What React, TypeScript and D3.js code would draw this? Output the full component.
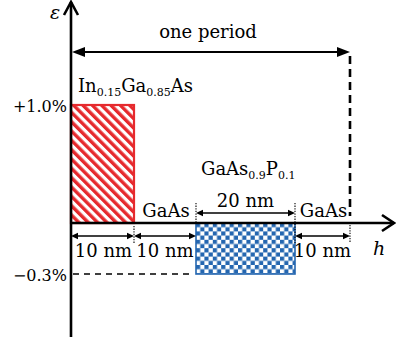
import React from "react";
import * as d3 from "d3";

// ---- data ----
const layerNames = ["InGaAs", "GaAs", "GaAsP", "GaAs"];
const layerThickness = [10, 10, 20, 10]; // nm
const layerStrain = [1.0, 0, -0.3, 0]; // %
const strainTicks = [1.0, -0.3];
const strainTickLabels = ["+1.0%", "\u22120.3%"];
const periodLabel = "one period";

const W = 396;
const H = 346;
const FONT = "'DejaVu Serif', serif";
const RED = "#e62a2e";
const BLUE = "#2466b0";

export default function App() {
  // cumulative boundaries in nm
  const bounds = [0];
  layerThickness.forEach((t, i) => bounds.push(bounds[i] + t));
  // schematic (piecewise) scales
  const x = d3.scaleLinear().domain(bounds).range([71, 134, 196, 295, 350]);
  const y = d3.scaleLinear().domain([-0.3, 0, 1.0]).range([274, 223, 105]);

  const x0 = x(0);
  const y0 = y(0);
  const xEnd = x(bounds[bounds.length - 1]);

  const arrowHead = (tipX: number, tipY: number, dir: number, len: number, half: number) =>
    `M${tipX},${tipY}L${tipX - dir * len},${tipY - half}L${tipX - dir * len},${tipY + half}Z`;

  const dimArrow = (xa: number, xb: number, yy: number, key: string) => (
    <g key={key}>
      <line x1={xa + 4} x2={xb - 4} y1={yy} y2={yy} stroke="#000" strokeWidth={1.6} />
      <path d={arrowHead(xb, yy, 1, 7, 3.2)} fill="#000" />
      <path d={arrowHead(xa, yy, -1, 7, 3.2)} fill="#000" />
    </g>
  );

  const dotted = (xx: number, ya: number, yb: number, key: string) => (
    <line key={key} x1={xx} x2={xx} y1={ya} y2={yb} stroke="#000" strokeWidth={1.1} strokeDasharray="1.3 1.3" />
  );

  const bars = layerStrain.map((s, i) => {
    if (s === 0) return null;
    const xa = x(bounds[i]);
    const xb = x(bounds[i + 1]);
    const ya = y(Math.max(s, 0));
    const yb = y(Math.min(s, 0));
    const isPos = s > 0;
    return (
      <rect
        key={"bar" + i}
        x={xa}
        y={ya}
        width={xb - xa}
        height={yb - ya}
        fill={isPos ? "url(#hatch)" : "url(#checker)"}
        stroke={isPos ? RED : BLUE}
        strokeWidth={isPos ? 2.2 : 1.6}
      />
    );
  });

  // dimension arrows: above the axis for the negative-strain layer, below otherwise
  const dimY = layerStrain.map((s) => (s < 0 ? 213 : 236));

  return (
    <svg width={W} height={H} style={{ position: "absolute", left: 0, top: 0, background: "#fff" }} fontFamily={FONT}>
      <defs>
        <pattern id="hatch" patternUnits="userSpaceOnUse" width={6.6} height={6.6} patternTransform={`translate(${x(0)},${y(1)}) rotate(-45)`}>
          <rect width={6.6} height={6.6} fill="#fff" />
          <rect width={3.4} height={6.6} fill={RED} />
        </pattern>
        <pattern id="checker" patternUnits="userSpaceOnUse" x={x(20)} y={y(0)} width={8.4} height={8.4}>
          <rect width={8.4} height={8.4} fill="#fff" />
          <rect width={4.2} height={4.2} fill={BLUE} />
          <rect x={4.2} y={4.2} width={4.2} height={4.2} fill={BLUE} />
        </pattern>
      </defs>

      {bars}

      {/* -0.3% dashed guide */}
      <line x1={x0 + 2} x2={x(bounds[2]) - 2} y1={y(-0.3)} y2={y(-0.3)} stroke="#000" strokeWidth={1.5} strokeDasharray="6 5" />

      {/* axes */}
      <line x1={x0} x2={x0} y1={2} y2={337} stroke="#000" strokeWidth={2.6} />
      <path d={`M${x0 - 7},15L${x0},2L${x0 + 7},15`} fill="none" stroke="#000" strokeWidth={2.6} />
      <line x1={x0} x2={394} y1={y0} y2={y0} stroke="#000" strokeWidth={2.6} />
      <path d={`M382,${y0 - 8}L394,${y0}L382,${y0 + 8}`} fill="none" stroke="#000" strokeWidth={2.6} />
      <text x={55} y={19} fontSize={19} fontStyle="italic" textAnchor="middle">ε</text>
      <text x={379} y={255} fontSize={19} fontStyle="italic" textAnchor="middle">h</text>

      {/* tick labels */}
      {strainTicks.map((t, i) => (
        <text key={"tk" + i} x={67} y={y(t) + 7} fontSize={16} textAnchor="end">{strainTickLabels[i]}</text>
      ))}

      {/* one period */}
      <line x1={x0 + 6} x2={xEnd - 6} y1={52} y2={52} stroke="#000" strokeWidth={2.2} />
      <path d={arrowHead(x0 + 1, 52, -1, 13, 5)} fill="#000" />
      <path d={arrowHead(xEnd, 52, 1, 13, 5)} fill="#000" />
      <line x1={xEnd} x2={xEnd} y1={56} y2={216} stroke="#000" strokeWidth={2.6} strokeDasharray="8 5" />
      <text x={208} y={38} fontSize={18} textAnchor="middle">{periodLabel}</text>

      {/* dotted boundary markers */}
      {dotted(x(bounds[1]), 226, 243, "d1")}
      {dotted(x(bounds[2]), 203, 223, "d2")}
      {dotted(x(bounds[3]), 203, 243, "d3")}
      {dotted(xEnd, 225, 243, "d4")}

      {/* thickness arrows */}
      {layerThickness.map((t, i) => dimArrow(x(bounds[i]), x(bounds[i + 1]), dimY[i], "da" + i))}
      {layerThickness.map((t, i) => {
        const cx = (x(bounds[i]) + x(bounds[i + 1])) / 2;
        const above = dimY[i] < 223;
        return (
          <text key={"dt" + i} x={cx + (i === 0 ? 1 : 0)} y={above ? 207 : 257} fontSize={18} textAnchor="middle">
            {t} nm
          </text>
        );
      })}

      {/* layer labels */}
      <text x={78} y={92} fontSize={18}>
        In<tspan fontSize={11} dy={4}>0.15</tspan>
        <tspan dy={-4}>Ga</tspan>
        <tspan fontSize={11} dy={4}>0.85</tspan>
        <tspan dy={-4}>As</tspan>
      </text>
      <text x={201} y={175} fontSize={18}>
        GaAs<tspan fontSize={11} dy={4}>0.9</tspan>
        <tspan dy={-4}>P</tspan>
        <tspan fontSize={11} dy={4}>0.1</tspan>
      </text>
      {layerNames.map((n, i) =>
        n === "GaAs" ? (
          <text key={"ln" + i} x={(x(bounds[i]) + x(bounds[i + 1])) / 2 + 1} y={217} fontSize={18} textAnchor="middle">
            GaAs
          </text>
        ) : null
      )}
    </svg>
  );
}
